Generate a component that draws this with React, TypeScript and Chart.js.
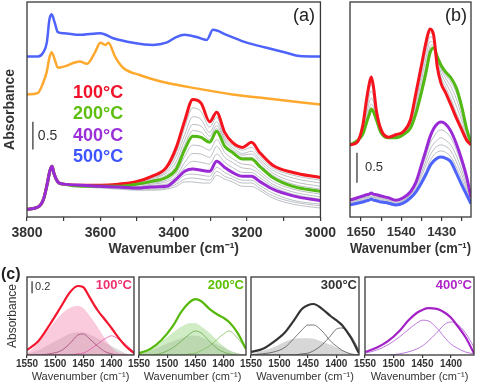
import React, { useEffect, useRef } from "react";
import { Chart, registerables } from "chart.js";

Chart.register(...registerables);

const FAMILY = "'Liberation Sans', Arial, Helvetica, sans-serif";

// ---------------- Panel (a): 3800–3000 cm-1 ----------------
const ticksA = [3800, 3700, 3600, 3500, 3400, 3300, 3200, 3100, 3000];
const tickLabelsA = [3800, 3600, 3400, 3200, 3000];

const wnBlue = [3800, 3770, 3756, 3746, 3739, 3733, 3724, 3716, 3700, 3656, 3600, 3565, 3511, 3457, 3420, 3393, 3370, 3337, 3310, 3293, 3256, 3201, 3147, 3093, 3057, 3000];
const absBlue500 = [2.88, 2.88, 2.95, 3.13, 3.54, 3.64, 3.48, 3.32, 3.30, 3.27, 3.30, 3.21, 3.13, 3.09, 3.13, 3.23, 3.27, 3.23, 3.18, 3.36, 3.27, 3.13, 3.04, 2.95, 2.89, 2.88];

const wnOrange = [3800, 3770, 3756, 3746, 3739, 3733, 3724, 3716, 3700, 3656, 3637, 3615, 3600, 3586, 3578, 3560, 3538, 3493, 3420, 3330, 3240, 3150, 3000];
const absOrange = [2.20, 2.23, 2.41, 2.61, 2.86, 2.96, 2.82, 2.68, 2.70, 2.79, 2.75, 2.95, 3.13, 3.09, 3.13, 2.88, 2.68, 2.55, 2.41, 2.30, 2.20, 2.13, 2.02];

const wnLow = [3800, 3770, 3755, 3745, 3738, 3732, 3726, 3716, 3700, 3650, 3600, 3550, 3500, 3460, 3420, 3393, 3370, 3348, 3325, 3302, 3283, 3261, 3240, 3212, 3188, 3166, 3130, 3075, 3000];
const lowHead = [0.14, 0.18, 0.32, 0.59, 0.82, 0.91, 0.77, 0.63, 0.59];
const absRed100 = [...lowHead, 0.57, 0.57, 0.59, 0.64, 0.73, 0.89, 1.25, 1.73, 2.11, 2.04, 1.71, 1.88, 1.52, 1.34, 1.25, 1.34, 1.16, 0.93, 0.80, 0.71];
const absGreen200 = [...lowHead, 0.55, 0.55, 0.55, 0.59, 0.64, 0.71, 0.86, 1.21, 1.45, 1.43, 1.34, 1.54, 1.27, 1.16, 1.04, 1.04, 0.91, 0.71, 0.55, 0.46];
const absPurple400 = [...lowHead, 0.57, 0.55, 0.54, 0.52, 0.54, 0.55, 0.68, 0.82, 0.86, 0.84, 0.82, 1.00, 0.89, 0.80, 0.73, 0.73, 0.64, 0.50, 0.38, 0.29];
const grayA1 = [...lowHead, 0.57, 0.57, 0.59, 0.63, 0.71, 0.86, 1.16, 1.61, 1.96, 1.89, 1.61, 1.79, 1.43, 1.29, 1.20, 1.25, 1.09, 0.88, 0.75, 0.66];
const grayA2 = [...lowHead, 0.57, 0.57, 0.57, 0.63, 0.70, 0.82, 1.09, 1.48, 1.80, 1.75, 1.52, 1.71, 1.39, 1.25, 1.14, 1.18, 1.04, 0.84, 0.70, 0.61];
const grayA3 = [...lowHead, 0.55, 0.55, 0.57, 0.61, 0.68, 0.79, 1.00, 1.38, 1.66, 1.63, 1.45, 1.64, 1.36, 1.21, 1.11, 1.13, 1.00, 0.79, 0.64, 0.55];
const grayA4 = [...lowHead, 0.55, 0.55, 0.57, 0.61, 0.66, 0.75, 0.93, 1.29, 1.55, 1.52, 1.39, 1.59, 1.30, 1.18, 1.07, 1.07, 0.95, 0.75, 0.59, 0.50];
const grayA5 = [...lowHead, 0.55, 0.55, 0.55, 0.57, 0.61, 0.66, 0.79, 1.09, 1.29, 1.27, 1.20, 1.39, 1.16, 1.05, 0.95, 0.93, 0.82, 0.64, 0.50, 0.41];
const grayA6 = [...lowHead, 0.55, 0.55, 0.55, 0.55, 0.59, 0.63, 0.73, 0.98, 1.14, 1.13, 1.07, 1.27, 1.07, 0.98, 0.88, 0.86, 0.77, 0.59, 0.45, 0.36];
const grayA7 = [...lowHead, 0.57, 0.55, 0.54, 0.54, 0.57, 0.59, 0.70, 0.89, 1.00, 0.98, 0.95, 1.13, 0.98, 0.89, 0.80, 0.80, 0.71, 0.55, 0.41, 0.32];
const grayA8 = [...lowHead, 0.55, 0.54, 0.52, 0.50, 0.52, 0.54, 0.63, 0.75, 0.77, 0.75, 0.73, 0.89, 0.80, 0.73, 0.66, 0.66, 0.57, 0.43, 0.30, 0.23];
const grayA9 = [...lowHead, 0.55, 0.54, 0.52, 0.50, 0.50, 0.52, 0.59, 0.68, 0.70, 0.68, 0.66, 0.82, 0.73, 0.68, 0.61, 0.61, 0.52, 0.38, 0.27, 0.20];
const grayA10 = [...lowHead, 0.54, 0.52, 0.50, 0.48, 0.48, 0.50, 0.55, 0.63, 0.63, 0.61, 0.61, 0.75, 0.68, 0.63, 0.55, 0.55, 0.48, 0.34, 0.23, 0.16];
const grayCurvesA = [grayA1, grayA2, grayA3, grayA4, grayA5, grayA6, grayA7, grayA8, grayA9, grayA10];

const legendA = ["100°C", "200°C", "400°C", "500°C"];

// ---------------- Panel (b): 1680–1350 cm-1 ----------------
const ticksB = [1650, 1595, 1540, 1485, 1430, 1375];
const tickLabelsB = [1650, 1540, 1430];
const wnB = [1680, 1660, 1645, 1635, 1628, 1622, 1616, 1608, 1595, 1575, 1555, 1535, 1515, 1500, 1485, 1472, 1462, 1452, 1442, 1432, 1420, 1405, 1390, 1375, 1362, 1350];
const absRedB = [1.20, 1.25, 1.53, 1.95, 2.20, 2.33, 2.17, 1.77, 1.45, 1.33, 1.37, 1.42, 1.62, 2.07, 2.53, 2.93, 3.13, 3.03, 2.50, 2.23, 2.08, 1.87, 1.65, 1.45, 1.28, 1.20];
const absGreenB = [1.20, 1.27, 1.38, 1.57, 1.70, 1.80, 1.75, 1.62, 1.40, 1.32, 1.32, 1.37, 1.48, 1.73, 2.08, 2.43, 2.73, 2.82, 2.67, 2.53, 2.42, 2.32, 2.15, 1.83, 1.47, 1.23];
const grayB1 = [1.20, 1.25, 1.50, 1.87, 2.10, 2.22, 2.08, 1.72, 1.45, 1.33, 1.35, 1.40, 1.58, 2.00, 2.47, 2.87, 3.07, 3.00, 2.58, 2.33, 2.17, 1.97, 1.73, 1.52, 1.33, 1.22];
const grayB2 = [1.20, 1.25, 1.47, 1.78, 2.00, 2.10, 2.00, 1.68, 1.43, 1.33, 1.35, 1.40, 1.55, 1.92, 2.38, 2.78, 3.00, 2.95, 2.63, 2.40, 2.25, 2.07, 1.85, 1.60, 1.37, 1.22];
const grayB3 = [1.20, 1.27, 1.43, 1.70, 1.90, 1.98, 1.92, 1.65, 1.42, 1.32, 1.33, 1.38, 1.53, 1.85, 2.28, 2.67, 2.92, 2.90, 2.68, 2.47, 2.32, 2.17, 1.97, 1.68, 1.42, 1.22];
const grayB4 = [1.20, 1.27, 1.42, 1.63, 1.80, 1.88, 1.83, 1.63, 1.42, 1.32, 1.33, 1.38, 1.50, 1.78, 2.18, 2.55, 2.83, 2.87, 2.70, 2.50, 2.37, 2.25, 2.07, 1.77, 1.45, 1.23];
const absPurpleB = [0.28, 0.32, 0.35, 0.37, 0.38, 0.40, 0.38, 0.37, 0.35, 0.32, 0.28, 0.32, 0.42, 0.58, 0.87, 1.13, 1.33, 1.47, 1.55, 1.58, 1.55, 1.43, 1.22, 0.95, 0.67, 0.33];
const absBlueB = [0.20, 0.23, 0.25, 0.27, 0.28, 0.30, 0.28, 0.27, 0.25, 0.23, 0.20, 0.23, 0.32, 0.42, 0.57, 0.72, 0.85, 0.93, 0.98, 1.00, 0.98, 0.92, 0.73, 0.53, 0.37, 0.22];
const grayB5 = [0.27, 0.30, 0.33, 0.35, 0.37, 0.38, 0.37, 0.35, 0.33, 0.30, 0.27, 0.30, 0.40, 0.55, 0.80, 1.03, 1.22, 1.33, 1.42, 1.45, 1.42, 1.32, 1.12, 0.87, 0.60, 0.30];
const grayB6 = [0.25, 0.28, 0.32, 0.33, 0.35, 0.37, 0.35, 0.33, 0.32, 0.28, 0.25, 0.28, 0.38, 0.52, 0.73, 0.95, 1.12, 1.22, 1.28, 1.32, 1.28, 1.20, 1.02, 0.78, 0.53, 0.28];
const grayB7 = [0.23, 0.27, 0.30, 0.32, 0.33, 0.35, 0.33, 0.32, 0.30, 0.27, 0.23, 0.27, 0.37, 0.48, 0.68, 0.87, 1.02, 1.12, 1.18, 1.20, 1.18, 1.10, 0.92, 0.70, 0.47, 0.25];
const grayB8 = [0.22, 0.25, 0.28, 0.30, 0.32, 0.33, 0.32, 0.30, 0.28, 0.25, 0.22, 0.25, 0.35, 0.45, 0.62, 0.78, 0.93, 1.03, 1.08, 1.10, 1.08, 1.00, 0.83, 0.62, 0.42, 0.23];
const grayCurvesB = [grayB1, grayB2, grayB3, grayB4, grayB5, grayB6, grayB7, grayB8];

// ---------------- Panel (c): 1550–1360 cm-1 deconvolution ----------------
const ticksC = [1550, 1500, 1450, 1400];
const wnC = [1550, 1530, 1510, 1490, 1475, 1460, 1450, 1440, 1425, 1410, 1400, 1390, 1375, 1360];
const tempsC = ["100°C", "200°C", "300°C", "400°C"];

const env100 = [0.08, 0.23, 0.50, 0.80, 1.03, 1.15, 1.13, 0.98, 0.75, 0.57, 0.45, 0.32, 0.15, 0.03];
const fillPink100 = [0.03, 0.20, 0.45, 0.67, 0.78, 0.82, 0.78, 0.67, 0.47, 0.25, 0.13, 0.05, 0.02, 0];
const fillGray100 = [0.02, 0.08, 0.18, 0.28, 0.35, 0.38, 0.38, 0.35, 0.28, 0.20, 0.15, 0.10, 0.03, 0];
const compA100 = [0, 0, 0.02, 0.07, 0.18, 0.33, 0.35, 0.28, 0.15, 0.05, 0.02, 0, 0, 0];
const compB100 = [0, 0, 0, 0, 0, 0.02, 0.03, 0.08, 0.18, 0.28, 0.32, 0.28, 0.18, 0.05];

const env200 = [0.03, 0.10, 0.25, 0.48, 0.72, 0.88, 0.93, 0.90, 0.77, 0.67, 0.62, 0.55, 0.37, 0.10];
const fillGreen200 = [0.02, 0.08, 0.22, 0.37, 0.47, 0.53, 0.53, 0.48, 0.37, 0.23, 0.15, 0.08, 0.03, 0];
const fillGray200 = [0.02, 0.07, 0.15, 0.23, 0.28, 0.32, 0.32, 0.30, 0.23, 0.17, 0.13, 0.08, 0.03, 0];
const compA200 = [0, 0, 0.03, 0.12, 0.23, 0.35, 0.40, 0.37, 0.23, 0.10, 0.05, 0.02, 0, 0];
const compB200 = [0, 0, 0, 0, 0, 0.02, 0.03, 0.07, 0.15, 0.27, 0.35, 0.40, 0.28, 0.10];

const env300 = [0.05, 0.10, 0.22, 0.38, 0.57, 0.77, 0.83, 0.85, 0.77, 0.65, 0.58, 0.50, 0.30, 0.03];
const fillGray300 = [0.02, 0.07, 0.13, 0.22, 0.27, 0.28, 0.28, 0.27, 0.22, 0.17, 0.13, 0.08, 0.03, 0];
const compA300 = [0, 0.02, 0.05, 0.13, 0.27, 0.42, 0.50, 0.50, 0.40, 0.23, 0.15, 0.08, 0.02, 0];
const compB300 = [0, 0, 0, 0, 0, 0.02, 0.03, 0.07, 0.17, 0.32, 0.43, 0.45, 0.33, 0.08];

const env400 = [0.05, 0.12, 0.23, 0.40, 0.57, 0.70, 0.75, 0.78, 0.77, 0.70, 0.62, 0.50, 0.30, 0.03];
const compA400 = [0.03, 0.08, 0.17, 0.30, 0.42, 0.53, 0.58, 0.57, 0.45, 0.28, 0.18, 0.12, 0.05, 0.02];
const compB400 = [0, 0, 0, 0.02, 0.05, 0.10, 0.15, 0.23, 0.37, 0.52, 0.55, 0.52, 0.37, 0.13];

// ---------------- helpers ----------------
const RED = "#f5141e";
const GREEN = "#52b814";
const PURPLE = "#9a2ad6";
const BLUE = "#4e63fb";
const ORANGE = "#ffa82e";
const GRAY = "#a9afb6";

function pts(xs: number[], ys: number[]) {
  return xs.map((x, i) => ({ x, y: ys[i] }));
}

function line(xs: number[], ys: number[], color: string, width: number) {
  return {
    data: pts(xs, ys),
    borderColor: color,
    backgroundColor: color,
    borderWidth: width,
    pointRadius: 0,
    pointHoverRadius: 0,
    fill: false,
    cubicInterpolationMode: "monotone",
  };
}

function area(xs: number[], ys: number[], fillColor: string) {
  return {
    data: pts(xs, ys),
    borderColor: "rgba(0,0,0,0)",
    borderWidth: 0,
    backgroundColor: fillColor,
    pointRadius: 0,
    pointHoverRadius: 0,
    fill: "origin",
    cubicInterpolationMode: "monotone",
  };
}

const frame = {
  id: "frame",
  afterDraw(chart: any) {
    const { ctx, chartArea: a } = chart;
    ctx.save();
    ctx.strokeStyle = "#383838";
    ctx.lineWidth = 1.3;
    ctx.strokeRect(a.left, a.top, a.right - a.left, a.bottom - a.top);
    ctx.restore();
  },
};

function overlay(draw: (ctx: CanvasRenderingContext2D, chart: any) => void) {
  return {
    id: "overlay",
    afterDraw(chart: any) {
      chart.ctx.save();
      draw(chart.ctx, chart);
      chart.ctx.restore();
    },
  };
}

function txt(ctx: CanvasRenderingContext2D, s: string, x: number, y: number, font: string, color: string, align: CanvasTextAlign = "left") {
  ctx.font = font;
  ctx.fillStyle = color;
  ctx.textAlign = align;
  ctx.textBaseline = "middle";
  ctx.fillText(s, x, y);
}

function scaleBar(ctx: CanvasRenderingContext2D, chart: any, wn: number, y0: number, len: number, label: string, font: string, dx: number) {
  const px = chart.scales.x.getPixelForValue(wn);
  const p0 = chart.scales.y.getPixelForValue(y0);
  const p1 = chart.scales.y.getPixelForValue(y0 + len);
  ctx.strokeStyle = "#555";
  ctx.lineWidth = 1.5;
  ctx.beginPath();
  ctx.moveTo(px, p0);
  ctx.lineTo(px, p1);
  ctx.stroke();
  txt(ctx, label, px + dx, (p0 + p1) / 2, font, "#333");
}

function xAxis(o: { min: number; max: number; ticks: number[]; labels: number[]; size: number; weight: string; titleSize: number; titleWeight: string; height: number; tickLen: number; pad: number; titlePad: number }) {
  return {
    type: "linear",
    min: o.min,
    max: o.max,
    reverse: true,
    afterBuildTicks: (s: any) => {
      s.ticks = o.ticks.map((v) => ({ value: v }));
    },
    afterFit: (s: any) => {
      s.height = o.height;
    },
    ticks: {
      autoSkip: false,
      maxRotation: 0,
      minRotation: 0,
      padding: o.pad,
      color: "#333",
      font: { family: FAMILY, size: o.size, weight: o.weight },
      callback: (v: number) => (o.labels.includes(v) ? String(v) : ""),
    },
    grid: { display: true, drawOnChartArea: false, drawTicks: true, tickLength: o.tickLen, color: "#383838", lineWidth: 1.2 },
    border: { display: false },
    title: {
      display: true,
      text: "Wavenumber (cm⁻¹)",
      color: "#333",
      font: { family: FAMILY, size: o.titleSize, weight: o.titleWeight },
      padding: { top: 0, bottom: o.titlePad },
    },
  };
}

function baseOptions(padding: any, x: any, y: any) {
  return {
    animation: false,
    responsive: false,
    maintainAspectRatio: false,
    devicePixelRatio: 1,
    events: [],
    layout: { padding },
    plugins: { legend: { display: false }, tooltip: { enabled: false } },
    scales: { x, y },
  };
}

// ---------------- chart configs ----------------
function configA() {
  const datasets: any[] = [
    line(wnLow, absPurple400, PURPLE, 3),
    line(wnLow, absGreen200, GREEN, 3),
    line(wnLow, absRed100, RED, 3),
    line(wnBlue, absBlue500, BLUE, 2.5),
    line(wnOrange, absOrange, ORANGE, 2.5),
    ...grayCurvesA.map((g) => line(wnLow, g, GRAY, 0.8)),
  ];
  const legendColors = ["#f2112a", "#5cbf0d", "#9b2fd8", "#3f55ff"];
  const legendY = [93, 114, 136, 157];
  return {
    type: "line",
    data: { datasets },
    options: baseOptions(
      { left: 0, top: 2, right: 19, bottom: 0 },
      xAxis({ min: 3000, max: 3800, ticks: ticksA, labels: tickLabelsA, size: 14, weight: "bold", titleSize: 14, titleWeight: "bold", height: 43, tickLen: 4, pad: 4, titlePad: 2 }),
      {
        type: "linear",
        min: 0,
        max: 3.86,
        afterFit: (s: any) => {
          s.width = 27;
        },
        ticks: { display: false },
        grid: { display: false, drawTicks: false },
        border: { display: false },
        title: { display: true, text: "Absorbance", color: "#333", font: { family: FAMILY, size: 14, weight: "bold" }, padding: { top: 2, bottom: 0 } },
      }
    ),
    plugins: [
      frame,
      overlay((ctx, chart) => {
        legendA.forEach((t, i) => txt(ctx, t, 73, legendY[i], `bold 18px ${FAMILY}`, legendColors[i]));
        txt(ctx, "(a)", 304, 16, `18px ${FAMILY}`, "#222", "center");
        scaleBar(ctx, chart, 3784, 1.21, 0.5, "0.5", `14px ${FAMILY}`, 5);
      }),
    ],
  };
}

function configB() {
  const datasets: any[] = [
    line(wnB, absRedB, RED, 3),
    line(wnB, absGreenB, GREEN, 3),
    line(wnB, absPurpleB, PURPLE, 3),
    line(wnB, absBlueB, BLUE, 3),
    ...grayCurvesB.map((g) => line(wnB, g, GRAY, 0.8)),
  ];
  return {
    type: "line",
    data: { datasets },
    options: baseOptions(
      { left: 20, top: 2, right: 9, bottom: 0 },
      xAxis({ min: 1350, max: 1680, ticks: ticksB, labels: tickLabelsB, size: 13, weight: "bold", titleSize: 14, titleWeight: "bold", height: 43, tickLen: 4, pad: 4, titlePad: 2 }),
      { type: "linear", min: 0, max: 3.58, display: false }
    ),
    plugins: [
      frame,
      overlay((ctx, chart) => {
        txt(ctx, "(b)", 126, 16, `18px ${FAMILY}`, "#222", "center");
        scaleBar(ctx, chart, 1661, 0.57, 0.5, "0.5", `13px ${FAMILY}`, 8);
      }),
    ],
  };
}

function configC(idx: number, datasets: any[], titleColor: string) {
  const first = idx === 0;
  const y = first
    ? {
        type: "linear",
        min: 0,
        max: 1.3,
        afterFit: (s: any) => {
          s.width = 27;
        },
        ticks: { display: false },
        grid: { display: false, drawTicks: false },
        border: { display: false },
        title: { display: true, text: "Absorbance", color: "#333", font: { family: FAMILY, size: 12, weight: "normal" }, padding: { top: 5, bottom: 0 } },
      }
    : { type: "linear", min: 0, max: 1.3, display: false };
  return {
    type: "line",
    data: { datasets },
    options: baseOptions(
      { left: first ? 0 : 25, top: 15, right: 6, bottom: 0 },
      xAxis({ min: 1360, max: 1550, ticks: ticksC, labels: ticksC, size: 10, weight: "bold", titleSize: 11, titleWeight: "normal", height: 30, tickLen: 3, pad: 0, titlePad: 1 }),
      y
    ),
    plugins: [
      frame,
      overlay((ctx, chart) => {
        const a = chart.chartArea;
        txt(ctx, tempsC[idx], a.right - 2, 23, `bold 13px ${FAMILY}`, titleColor, "right");
        if (first) {
          txt(ctx, "(c)", 1, 13, `bold 16px ${FAMILY}`, "#222");
          scaleBar(ctx, chart, 1541, 1.03, 0.2, "0.2", `11px ${FAMILY}`, 3);
        }
      }),
    ],
  };
}

const PANELS = [
  { left: 0, top: 0, width: 340, height: 260, build: configA },
  { left: 330, top: 0, width: 150, height: 260, build: configB },
  {
    left: 0, top: 262, width: 140, height: 123,
    build: () =>
      configC(0, [
        line(wnC, env100, "#f4162e", 2.2),
        line(wnC, compA100, "#a3487a", 0.8),
        line(wnC, compB100, "#e055a8", 0.8),
        area(wnC, fillPink100, "rgba(240,130,175,0.42)"),
        area(wnC, fillGray100, "rgba(140,140,140,0.30)"),
      ], "#f0306e"),
  },
  {
    left: 114, top: 262, width: 138, height: 123,
    build: () =>
      configC(1, [
        line(wnC, env200, "#55b80a", 2.2),
        line(wnC, compA200, "#6aaa4a", 0.8),
        line(wnC, compB200, "#7cc05a", 0.8),
        area(wnC, fillGreen200, "rgba(130,205,100,0.38)"),
        area(wnC, fillGray200, "rgba(140,140,140,0.28)"),
      ], "#5cc000"),
  },
  {
    left: 226, top: 262, width: 139, height: 123,
    build: () =>
      configC(2, [
        line(wnC, env300, "#333333", 2.2),
        line(wnC, compA300, "#555555", 0.8),
        line(wnC, compB300, "#555555", 0.8),
        area(wnC, fillGray300, "rgba(140,140,140,0.35)"),
      ], "#333333"),
  },
  {
    left: 340, top: 262, width: 140, height: 123,
    build: () =>
      configC(3, [
        line(wnC, env400, "#a421c6", 2.2),
        line(wnC, compA400, "#b56ad6", 0.9),
        line(wnC, compB400, "#b56ad6", 0.9),
      ], "#b026c8"),
  },
];

export default function App() {
  const refs = useRef<(HTMLCanvasElement | null)[]>([]);
  useEffect(() => {
    const charts = PANELS.map((p, i) => new Chart(refs.current[i] as HTMLCanvasElement, p.build() as any));
    return () => charts.forEach((c) => c.destroy());
  }, []);
  return (
    <div style={{ position: "absolute", left: 0, top: 0, width: 480, height: 385, background: "#fff", overflow: "hidden" }}>
      {PANELS.map((p, i) => (
        <canvas
          key={i}
          ref={(el) => {
            refs.current[i] = el;
          }}
          width={p.width}
          height={p.height}
          style={{ position: "absolute", left: p.left, top: p.top, width: p.width, height: p.height }}
        />
      ))}
    </div>
  );
}
